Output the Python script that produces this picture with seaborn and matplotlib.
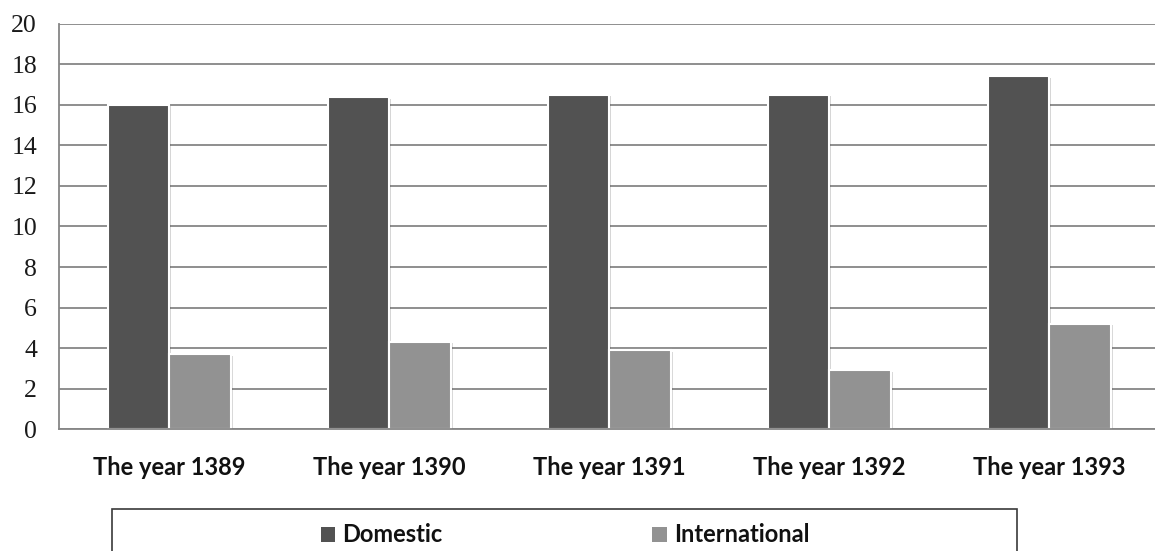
import numpy as np
import pandas as pd
import seaborn as sns
import matplotlib.pyplot as plt
from matplotlib.patches import Rectangle
from matplotlib import patheffects as pe

# === data ===
years = ["The year 1389", "The year 1390", "The year 1391", "The year 1392", "The year 1393"]
domestic = [16.0, 16.37, 16.5, 16.5, 17.4]
international = [3.7, 4.3, 3.9, 2.9, 5.2]
series = ["Domestic", "International"]
colors = ["#525252", "#929292"]
yticks = list(range(0, 21, 2))

df = pd.DataFrame({
    "year": years * 2,
    "value": domestic + international,
    "type": [series[0]] * len(years) + [series[1]] * len(years),
})

sns.set_style("white")
axis_gray = "#868686"

W, H = 1155, 551
fig = plt.figure(figsize=(W / 100, H / 100), dpi=100)
ax = fig.add_axes([59.3 / W, 121.7 / H, 1100 / W, 405.6 / H])

sns.barplot(data=df, x="year", y="value", hue="type", hue_order=series,
            palette=colors, width=0.56, edgecolor="white", linewidth=1.5,
            ax=ax)

# soft shadow like the original office chart
for bar in ax.patches:
    bar.set_path_effects([pe.SimplePatchShadow(offset=(1.5, -1), alpha=0.18), pe.Normal()])

# --- axes styling ---
ax.set_ylim(0, 20)
ax.set_yticks(yticks)
ax.set_xlim(-0.5, len(years) - 0.5)
ax.set_xlabel("")
ax.set_ylabel("")
ax.set_axisbelow(True)
ax.yaxis.grid(True, color=axis_gray, linewidth=1.3)
ax.xaxis.grid(False)
for s in ["top", "right"]:
    ax.spines[s].set_visible(False)
for s in ["left", "bottom"]:
    ax.spines[s].set_color(axis_gray)
    ax.spines[s].set_linewidth(1.3)

ax.set_xticks(np.arange(-0.5, len(years), 1), minor=True)
ax.tick_params(axis="x", which="major", length=0, pad=19)
ax.tick_params(axis="x", which="minor", length=6.5, width=1.3, color=axis_gray,
               direction="out")
ax.tick_params(axis="y", length=5, width=1.3, color=axis_gray, direction="out", pad=11)

for lab in ax.get_yticklabels():
    lab.set_fontfamily("Liberation Serif")
    lab.set_fontsize(18.5)
    lab.set_color("#1a1a1a")
for lab in ax.get_xticklabels():
    lab.set_fontfamily("Lato")
    lab.set_fontweight("bold")
    lab.set_fontsize(17)
    lab.set_color("#111111")

# --- legend at the bottom, box runs off the figure edge ---
handles, labels = ax.get_legend_handles_labels()
ax.get_legend().remove()
leg = fig.legend(handles, labels, loc="center", bbox_to_anchor=(565 / W, 1 - 535 / H),
                 ncol=2, frameon=False, handlelength=0.6, handleheight=0.6,
                 handletextpad=0.3, columnspacing=8.9,
                 prop={"family": "Lato", "weight": "bold", "size": 17})
for t in leg.get_texts():
    t.set_color("#111111")
for h in leg.legend_handles:
    h.set_edgecolor("none")
    h.set_path_effects([])

fig.patches.append(Rectangle((112 / W, -0.05), (1017 - 112) / W, 0.05 + 1 - 509 / H,
                             transform=fig.transFigure, fill=False,
                             edgecolor="#3a3a3a", linewidth=1.2))

fig.savefig("out.png", dpi=100)
